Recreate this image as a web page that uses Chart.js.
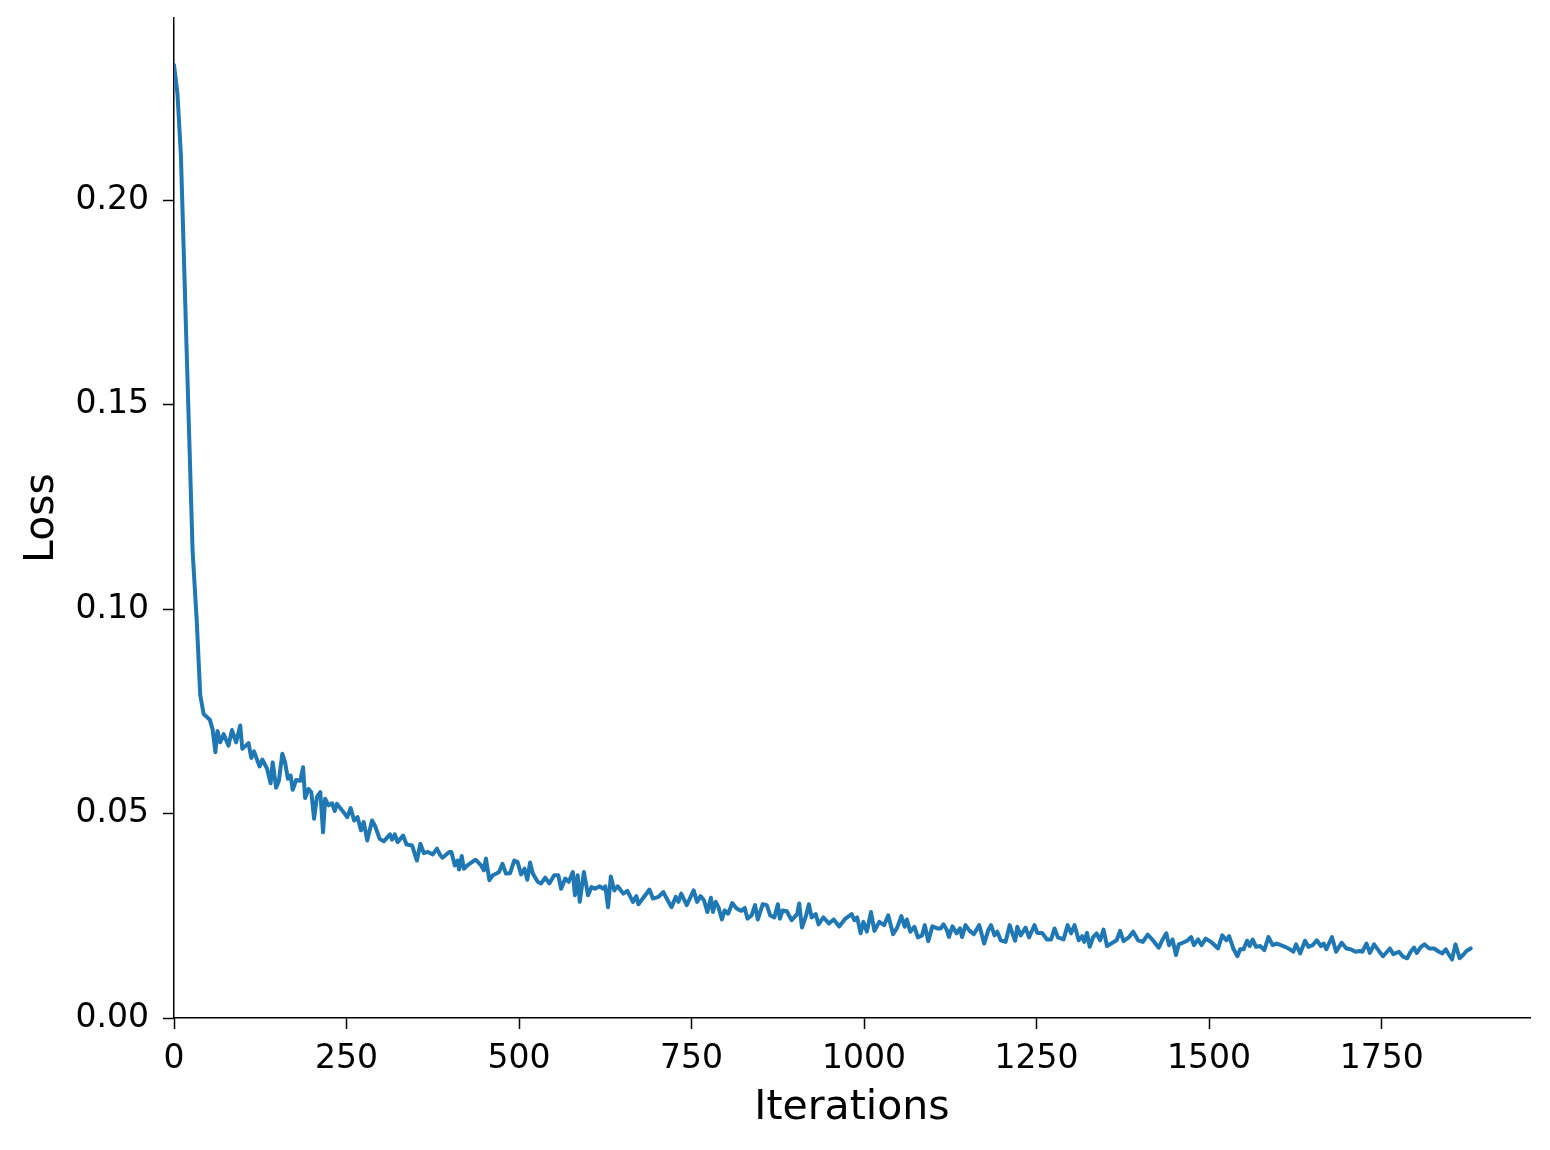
<!DOCTYPE html>
<html>
<head>
<meta charset="utf-8">
<script src="https://cdn.jsdelivr.net/npm/chart.js@4.4.1/dist/chart.umd.min.js"></script>
<style>
  html, body { margin: 0; padding: 0; background: #ffffff; }
  canvas { display: block; }
</style>
</head>
<body>
<canvas id="c" width="1550" height="1150"></canvas>
<script>
const iterations = [0,5,10,18,27,33,38,43,52,56,60,63,67,72,79,84,90,96,99,108,112,116,124,128,135,140,143,148,152,157,161,165,169,172,177,183,187,190,195,199,203,207,212,216,219,224,229,233,236,244,251,256,261,266,271,275,280,287,292,298,304,313,316,320,324,332,337,345,352,357,362,368,375,381,386,389,399,402,407,411,413,417,420,425,437,445,449,452,457,462,468,471,476,481,487,493,498,503,508,512,516,520,527,532,538,544,551,557,561,567,572,578,581,585,588,594,600,605,610,617,622,625,629,633,638,643,651,657,665,670,673,681,689,694,702,709,714,721,727,731,735,743,748,753,758,763,768,773,778,781,785,789,794,798,803,809,815,822,827,831,837,842,846,853,859,864,870,875,878,882,888,895,903,906,910,916,920,924,930,934,941,949,956,964,973,982,986,990,995,999,1004,1010,1015,1022,1029,1035,1042,1048,1054,1059,1062,1067,1073,1078,1084,1088,1093,1099,1106,1111,1115,1120,1123,1128,1134,1139,1142,1147,1153,1159,1167,1174,1180,1184,1189,1193,1198,1205,1211,1215,1219,1222,1227,1234,1239,1247,1251,1258,1265,1271,1276,1281,1289,1295,1300,1305,1311,1316,1319,1323,1327,1332,1337,1342,1347,1352,1360,1366,1371,1376,1384,1390,1397,1404,1411,1419,1427,1432,1438,1442,1447,1452,1456,1462,1468,1474,1478,1484,1489,1495,1503,1513,1519,1525,1529,1535,1541,1545,1550,1555,1559,1563,1568,1574,1580,1586,1592,1598,1604,1610,1617,1622,1626,1632,1639,1644,1650,1656,1662,1666,1670,1678,1684,1692,1699,1705,1712,1718,1722,1728,1733,1739,1746,1752,1758,1762,1767,1775,1781,1787,1792,1797,1801,1807,1812,1819,1826,1833,1838,1843,1846,1852,1857,1863,1868,1873,1879];
const loss = [0.233,0.226,0.211,0.165,0.114,0.097,0.079,0.0743,0.0729,0.0705,0.065,0.0702,0.0674,0.0694,0.0666,0.0704,0.0674,0.0715,0.0658,0.0672,0.0636,0.0652,0.0615,0.0632,0.0609,0.0574,0.0625,0.0563,0.058,0.0646,0.0625,0.0585,0.0593,0.0558,0.0582,0.058,0.0613,0.0538,0.056,0.0552,0.0487,0.054,0.0552,0.0454,0.0536,0.052,0.0525,0.0506,0.0524,0.0507,0.0491,0.0513,0.0483,0.0491,0.0459,0.0479,0.0434,0.0483,0.0467,0.0438,0.0432,0.0449,0.0436,0.0449,0.043,0.0446,0.0424,0.0422,0.0385,0.0426,0.0403,0.0406,0.04,0.0414,0.0398,0.0392,0.0406,0.0406,0.0373,0.0385,0.0363,0.0396,0.0365,0.0373,0.0387,0.0373,0.0361,0.039,0.0337,0.0349,0.0354,0.0357,0.0377,0.0353,0.0354,0.0385,0.0381,0.0351,0.0365,0.0338,0.038,0.0353,0.0333,0.0329,0.0343,0.0329,0.0349,0.0349,0.0316,0.0341,0.0333,0.0357,0.03,0.0349,0.0284,0.0357,0.03,0.032,0.0316,0.0322,0.0316,0.0322,0.0271,0.0346,0.0312,0.0322,0.0304,0.0311,0.0284,0.0298,0.0278,0.0296,0.0314,0.0292,0.0296,0.0308,0.0292,0.0271,0.0296,0.0284,0.0304,0.0276,0.0294,0.0312,0.0284,0.0298,0.0288,0.0259,0.0294,0.0259,0.0284,0.0271,0.0241,0.0263,0.0255,0.0281,0.0268,0.0262,0.0269,0.0243,0.0251,0.0276,0.0241,0.0278,0.0276,0.0251,0.0246,0.0278,0.0243,0.0263,0.0261,0.0239,0.0254,0.028,0.0221,0.0251,0.0278,0.0246,0.0254,0.0229,0.0246,0.0231,0.0241,0.0224,0.0243,0.0254,0.0239,0.0246,0.0207,0.0235,0.0211,0.0259,0.0213,0.0235,0.0227,0.0251,0.0205,0.0221,0.0249,0.0223,0.0241,0.0211,0.0223,0.0197,0.0202,0.0227,0.0188,0.0224,0.0219,0.0219,0.0229,0.0215,0.0198,0.0224,0.0207,0.0219,0.0198,0.0227,0.0213,0.0205,0.0227,0.0182,0.0215,0.0227,0.0202,0.0211,0.019,0.0186,0.0227,0.0207,0.0189,0.0223,0.0202,0.0221,0.0197,0.0227,0.0208,0.0208,0.0192,0.0192,0.0219,0.0197,0.0192,0.0227,0.0207,0.0227,0.019,0.02,0.0186,0.0208,0.0174,0.0198,0.0207,0.019,0.0216,0.0176,0.0184,0.019,0.0213,0.0188,0.0198,0.0211,0.019,0.0186,0.0204,0.0189,0.0172,0.019,0.0207,0.0178,0.0192,0.0154,0.018,0.0184,0.0189,0.0198,0.0178,0.0192,0.0178,0.0194,0.0186,0.017,0.0202,0.019,0.02,0.017,0.0151,0.0168,0.0168,0.0189,0.0176,0.0192,0.0174,0.0176,0.0166,0.0198,0.0178,0.0182,0.0178,0.0174,0.0168,0.0162,0.018,0.0158,0.0189,0.0174,0.0178,0.019,0.0176,0.0182,0.0168,0.0198,0.0162,0.0184,0.017,0.0168,0.0162,0.0164,0.0162,0.0182,0.0159,0.018,0.0164,0.0151,0.0162,0.017,0.0156,0.0162,0.015,0.0146,0.0162,0.0172,0.0159,0.0174,0.018,0.017,0.017,0.0162,0.0158,0.0168,0.0159,0.0143,0.018,0.0146,0.0154,0.0164,0.017];
const xTickValues = [0,250,500,750,1000,1250,1500,1750];
const yTickValues = [0.00,0.05,0.10,0.15,0.20];
const xLabel = 'Iterations';
const yLabel = 'Loss';

const points = iterations.map((it, i) => ({x: it, y: loss[i]}));
const FONT = 'DejaVu Sans';

new Chart(document.getElementById('c'), {
  type: 'line',
  data: {
    datasets: [{
      data: points,
      borderColor: '#1f77b4',
      borderWidth: 4,
      pointRadius: 0,
      tension: 0,
      fill: false,
      borderJoinStyle: 'round',
      borderCapStyle: 'round'
    }]
  },
  options: {
    responsive: false,
    animation: false,
    devicePixelRatio: 1,
    layout: { padding: { top: 18, right: 20, left: 0, bottom: 0 } },
    plugins: { legend: { display: false }, tooltip: { enabled: false } },
    scales: {
      x: {
        type: 'linear',
        min: 0,
        max: 1965,
        afterBuildTicks: (s) => { s.ticks = xTickValues.map(v => ({value: v})); },
        afterFit: (s) => { s.height = 132; s.paddingLeft = 0; s.paddingRight = 0; },
        grid: { drawOnChartArea: false, drawTicks: true, tickLength: 11, tickWidth: 1.5, tickColor: '#000' },
        border: { display: true, color: '#000', width: 1.5 },
        ticks: { color: '#000', font: { family: FONT, size: 33 }, padding: 11, maxRotation: 0, autoSkip: false,
                 callback: (v) => String(v) },
        title: { display: true, text: xLabel, color: '#000', font: { family: FONT, size: 41 }, padding: { top: 0, bottom: 17 } }
      },
      y: {
        type: 'linear',
        min: 0,
        max: 0.2445,
        afterBuildTicks: (s) => { s.ticks = yTickValues.map(v => ({value: v})); },
        afterFit: (s) => { s.width = 174; s.paddingTop = 0; s.paddingBottom = 0; },
        grid: { drawOnChartArea: false, drawTicks: true, tickLength: 11, tickWidth: 1.5, tickColor: '#000' },
        border: { display: true, color: '#000', width: 1.5 },
        ticks: { color: '#000', font: { family: FONT, size: 33 }, padding: 14, autoSkip: false,
                 callback: (v) => Number(v).toFixed(2) },
        title: { display: true, text: yLabel, color: '#000', font: { family: FONT, size: 41 }, padding: { top: 18, bottom: 0 } }
      }
    }
  }
});
</script>
</body>
</html>
